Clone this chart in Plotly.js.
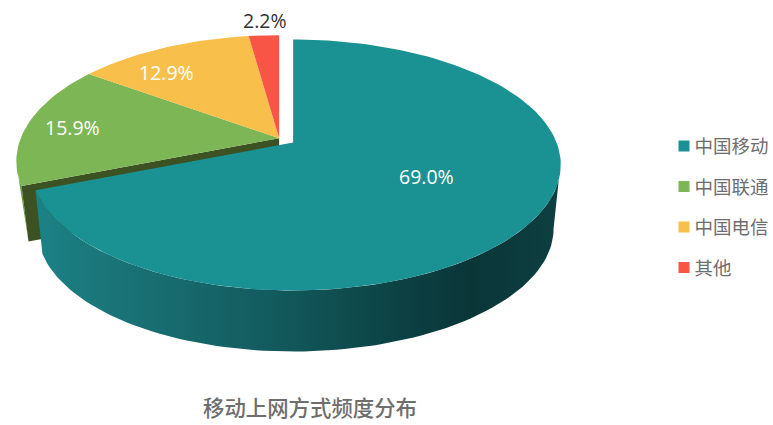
<!DOCTYPE html>
<html><head><meta charset="utf-8">
<script src="https://cdn.plot.ly/plotly-3.0.1.min.js"></script>
<style>html,body{margin:0;padding:0;background:#fff}#c{width:773px;height:425px}
.legend .legendpoints path.scatterpts{transform:translate(31px,0)}
.legend text.legendtext{transform:translate(1.5px,0)}</style>
</head><body><div id="c"></div>
<script>
// ---- data ----
const categories = ['中国移动','中国联通','中国电信','其他'];
const shares = [69.0,15.9,12.9,2.2];
const titleText = '移动上网方式频度分布';
// ---- styles ----
const topColors = ['#1a9192','#7cb655','#f9bf4b','#f95546'];
const labelColors = ['#ffffff','#ffffff','#ffffff','#333333'];
const labelAt = [[427,176],[73,127],[167,72],[265,20]];
// ---- perspective model of the tilted disc (axis units equal page pixels) ----
const W=773,H=425,D=5.58,SX=1458,SY=677.8,BOW=2.5,FLOOR=0.973;
const tealApex={x:293.5,y:142.5,drop:65};
const restApex={x:279.5,y:138.2,drop:56.8};
const STEP=1.5;
function project(thetaDeg,r,apex,lower){
  const t=thetaDeg*Math.PI/180,X=r*Math.sin(t),Z=-r*Math.cos(t),k=lower?FLOOR:1;
  return [apex.x+k*(SX*X/(D-Z)+BOW*X*X), apex.y+(lower?apex.drop:0)+k*SY*Z/(D-Z)];
}
function arc(a,b,apex,lower){
  const out=[],n=Math.max(2,Math.ceil(Math.abs(b-a)/STEP));
  for(let i=0;i<=n;i++) out.push(project(a+(b-a)*i/n,1,apex,lower));
  return out;
}
function poly(points,extra){
  return Object.assign({type:'scatter',mode:'lines',x:points.map(p=>p[0]),y:points.map(p=>p[1]),
    fill:'toself',line:{width:0},hoverinfo:'skip',showlegend:false},extra);
}
const bounds=[];let acc=0;
shares.forEach(v=>{const total=shares.reduce((s,u)=>s+u,0);bounds.push([acc/total*360,(acc+v)/total*360]);acc+=v;});
const traces=[];
// rest of the disc: green outer wall sliver and its cut face
const [gs]=bounds[1];
traces.push(poly([...arc(gs,gs+10,restApex,false),project(gs,1,restApex,true)],{fillcolor:'#659a3f'}));
traces.push(poly([[restApex.x,restApex.y],project(gs,1,restApex,false),project(gs,1,restApex,true),[restApex.x,restApex.y+restApex.drop]],{fillcolor:'#3d5222'}));
// top faces of the three smaller slices
[1,2,3].forEach(i=>{
  const [a,b]=bounds[i];
  traces.push(poly([[restApex.x,restApex.y],...arc(a,b,restApex,false)],{fillcolor:topColors[i]}));
});
// big slice wall with horizontal shading, then top
const [ts,te]=bounds[0];
traces.push(poly([...arc(107,te,tealApex,false),...arc(te,100,tealApex,true)],{
  fillgradient:{type:'horizontal',colorscale:[[0,'#1c8286'],[0.21,'#186f72'],[0.46,'#125a5d'],[0.7,'#0c4143'],[0.83,'#0a3638'],[1,'#0e3f41']]}}));
traces.push(poly([[tealApex.x,tealApex.y],...arc(ts,te,tealApex,false)],{fillcolor:topColors[0]}));
// legend entries
categories.forEach((c,i)=>traces.push({type:'scatter',mode:'markers',x:[null],y:[null],name:c,legendgroup:c,
  marker:{symbol:'square',size:11,color:topColors[i]},hoverinfo:'skip'}));
const layout={
  width:W,height:H,margin:{l:0,r:0,t:0,b:0},paper_bgcolor:'#fff',plot_bgcolor:'#fff',
  xaxis:{range:[0,W],visible:false,fixedrange:true},
  yaxis:{range:[H,0],visible:false,fixedrange:true},
  title:{text:titleText,x:310/W,xanchor:'center',y:1-409/H,yanchor:'middle',
    font:{family:'"Noto Sans CJK SC"',size:21.4,color:'#6e6e6e',weight:500}},
  legend:{x:664/W,xanchor:'left',y:1-207/H,yanchor:'middle',indentation:-10,tracegroupgap:13.4,itemwidth:30,
    font:{family:'"Noto Sans CJK SC"',size:18.5,color:'#6e6e6e'},bgcolor:'rgba(0,0,0,0)'},
  annotations:shares.map((v,i)=>({x:labelAt[i][0],y:labelAt[i][1],xref:'x',yref:'y',showarrow:false,
    text:v.toFixed(1)+'%',font:{family:'"Open Sans"',size:19.5,color:labelColors[i]}}))
};
Plotly.newPlot('c',traces,layout,{displayModeBar:false,staticPlot:true});
</script></body></html>
